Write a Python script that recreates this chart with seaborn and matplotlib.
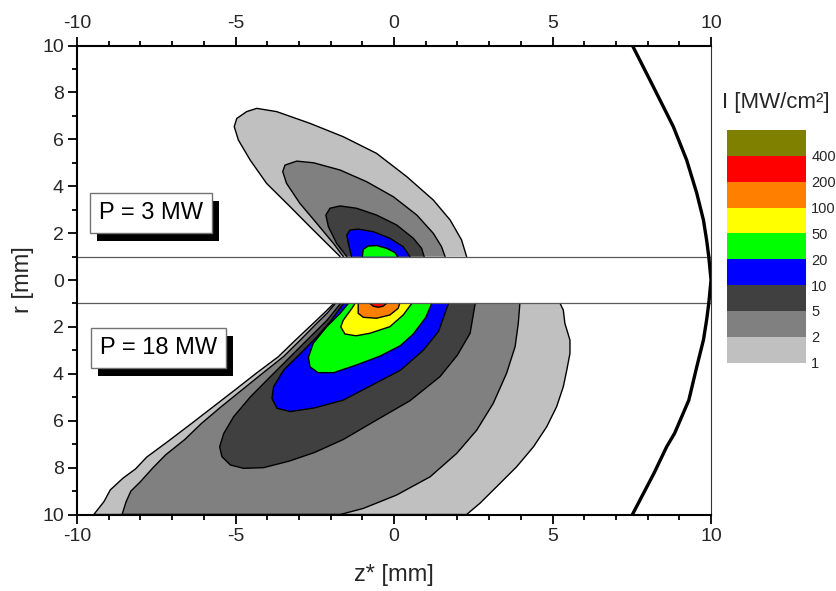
import matplotlib
matplotlib.use("Agg")
import matplotlib.pyplot as plt
import matplotlib.patheffects as pe
from matplotlib.colors import ListedColormap, BoundaryNorm
from matplotlib.cm import ScalarMappable
from matplotlib.ticker import MultipleLocator
import seaborn as sns

sns.set_theme(style="ticks")
plt.rcParams["font.family"] = ["Liberation Sans", "DejaVu Sans"]
plt.rcParams["axes.unicode_minus"] = False

# Intensity levels (MW/cm^2) and the colour of the band above each level
levels = [1, 2, 5, 10, 20, 50, 100, 200, 400]
level_cap = 800
band_colors = ["#c0c0c0", "#808080", "#404040", "#0000ff", "#00ff00",
               "#ffff00", "#ff8000", "#ff0000", "#808000"]

# Upper half: P = 3 MW, iso-intensity boundaries (z*, r) in mm
top_1_z = [-1.70, -2.12, -2.65, -3.28, -4.02, -4.54, -4.91, -5.04, -4.96, -4.65,
           -4.33, -3.70, -2.65, -1.60, -0.55, 0.40, 1.24, 1.77, 2.13, 2.29]
top_1_r = [1.0, 1.56, 2.27, 3.13, 4.12, 5.12, 5.97, 6.54, 6.89, 7.18,
           7.32, 7.18, 6.68, 6.11, 5.40, 4.41, 3.41, 2.56, 1.71, 1.0]
top_2_z = [-1.60, -1.91, -2.44, -2.97, -3.39, -3.51, -3.44, -3.07, -2.54, -1.70,
           -0.86, -0.02, 0.72, 1.24, 1.50, 1.61]
top_2_r = [1.0, 1.56, 2.42, 3.27, 4.12, 4.62, 4.90, 5.07, 5.00, 4.69,
           4.19, 3.55, 2.77, 1.99, 1.42, 1.0]
top_5_z = [-1.49, -1.81, -2.07, -2.15, -2.02, -1.70, -1.18, -0.55, 0.08, 0.61, 0.87, 0.95]
top_5_r = [1.0, 1.56, 2.27, 2.77, 3.06, 3.16, 3.06, 2.77, 2.35, 1.78, 1.35, 1.0]
top_10_z = [-1.34, -1.44, -1.49, -1.39, -1.13, -0.65, -0.13, 0.29, 0.50]
top_10_r = [1.0, 1.56, 1.92, 2.13, 2.17, 2.06, 1.78, 1.42, 1.0]
top_20_z = [-1.00, -0.97, -0.81, -0.55, -0.23, 0.03, 0.11]
top_20_r = [1.0, 1.31, 1.45, 1.47, 1.35, 1.17, 1.0]

# Lower half: P = 18 MW (r plotted downwards)
bot_1_z = [-1.90, -2.20, -2.55, -3.10, -3.65, -4.35, -5.02, -5.70, -6.38, -7.10,
           -7.80, -8.15, -8.55, -8.95, -9.15, -9.47, 2.29, 2.71, 3.24, 3.87,
           4.40, 4.82, 5.13, 5.34, 5.45, 5.55, 5.55, 5.39, 5.34, 5.24]
bot_1_r = [-1.0, -1.40, -1.85, -2.55, -3.27, -3.98, -4.69, -5.40, -6.11, -6.85,
           -7.55, -8.05, -8.45, -8.95, -9.45, -10.0, -10.0, -9.52, -8.81, -7.96,
           -7.11, -6.25, -5.40, -4.55, -3.84, -3.13, -2.56, -1.85, -1.28, -1.0]
bot_2_z = [-1.85, -2.10, -2.44, -2.95, -3.49, -4.15, -4.80, -5.45, -6.07, -6.60,
           -7.20, -7.60, -8.00, -8.30, -8.45, -8.58, -1.70, -0.97, 0.08, 1.14,
           1.98, 2.61, 3.13, 3.55, 3.82, 3.92, 3.97]
bot_2_r = [-1.0, -1.40, -1.85, -2.55, -3.27, -3.98, -4.69, -5.40, -6.11, -6.80,
           -7.45, -8.00, -8.60, -9.00, -9.45, -10.0, -10.0, -9.74, -9.17, -8.39,
           -7.39, -6.40, -5.26, -3.98, -2.84, -1.85, -1.0]
bot_5_z = [-1.69, -2.11, -2.64, -3.27, -3.90, -4.53, -5.06, -5.37, -5.50, -5.43,
           -5.16, -4.74, -4.11, -3.30, -2.50, -1.60, -0.55, 0.50, 1.45, 2.00, 2.40, 2.56]
bot_5_r = [-1.0, -1.71, -2.42, -3.27, -4.12, -4.98, -5.83, -6.54, -7.11, -7.53,
           -7.89, -8.03, -8.00, -7.72, -7.35, -6.80, -5.97, -5.15, -4.12, -3.20, -2.27, -1.0]
bot_10_z = [-1.59, -2.00, -2.43, -3.00, -3.48, -3.80, -3.85, -3.69, -3.27, -2.50,
            -1.60, -0.65, 0.20, 0.92, 1.40, 1.72]
bot_10_r = [-1.0, -1.75, -2.42, -3.20, -3.84, -4.55, -5.05, -5.47, -5.61, -5.45,
            -5.12, -4.45, -3.85, -3.00, -2.20, -1.0]
bot_20_z = [-1.44, -1.70, -2.12, -2.55, -2.70, -2.65, -2.40, -1.90, -1.18, -0.45,
            0.20, 0.61, 1.00, 1.19]
bot_20_r = [-1.0, -1.42, -1.99, -2.70, -3.30, -3.70, -3.95, -3.95, -3.62, -3.25,
            -2.80, -2.30, -1.60, -1.0]
bot_50_z = [-1.23, -1.33, -1.60, -1.68, -1.55, -1.20, -0.76, -0.13, 0.29, 0.56]
bot_50_r = [-1.0, -1.21, -1.71, -2.00, -2.30, -2.38, -2.27, -1.99, -1.49, -1.0]
bot_100_z = [-1.13, -1.13, -0.97, -0.55, -0.13, 0.13, 0.18]
bot_100_r = [-1.0, -1.42, -1.59, -1.63, -1.49, -1.21, -1.0]
bot_200_z = [-0.76, -0.65, -0.50, -0.35, -0.24]
bot_200_r = [-1.0, -1.12, -1.16, -1.12, -1.0]

# Window surface
mirror_z = [7.52, 8.18, 8.60, 8.81, 9.23, 9.55, 9.76, 9.86, 9.93, 10.0,
            9.93, 9.86, 9.76, 9.55, 9.30, 8.85, 8.60, 8.20, 7.52]
mirror_r = [10.0, 8.24, 7.11, 6.54, 5.12, 3.70, 2.56, 1.71, 0.98, 0.0,
            -0.98, -1.71, -2.56, -3.70, -5.12, -6.54, -7.11, -8.24, -10.0]

power_labels = ["P = 3 MW", "P = 18 MW"]
label_z = [-7.67, -7.44]
label_r = [2.87, -2.88]

x_ticks = [-10, -5, 0, 5, 10]
r_ticks = [-10, -8, -6, -4, -2, 0, 2, 4, 6, 8, 10]
r_tick_labels = ["10", "8", "6", "4", "2", "0", "2", "4", "6", "8", "10"]

halves = [
    [(1, top_1_z, top_1_r), (2, top_2_z, top_2_r), (5, top_5_z, top_5_r),
     (10, top_10_z, top_10_r), (20, top_20_z, top_20_r)],
    [(1, bot_1_z, bot_1_r), (2, bot_2_z, bot_2_r), (5, bot_5_z, bot_5_r),
     (10, bot_10_z, bot_10_r), (20, bot_20_z, bot_20_r), (50, bot_50_z, bot_50_r),
     (100, bot_100_z, bot_100_r), (200, bot_200_z, bot_200_r)],
]

fig = plt.figure(figsize=(8.37, 5.91), dpi=100)
ax = fig.add_axes([0.0920, 0.1294, 0.7575, 0.7936])
ax.set_xlim(-10, 10)
ax.set_ylim(-10, 10)

for half in halves:
    for lev, zs, rs in half:
        color = band_colors[levels.index(lev)]
        ax.fill(zs, rs, color=color, lw=0, zorder=1)
        sns.lineplot(x=zs, y=rs, sort=False, estimator=None, color="black",
                     linewidth=1.0, ax=ax, zorder=3)

# edges of the omitted axial strip
for y in (1, -1):
    ax.axhline(y, color="0.35", lw=0.9, zorder=4)

sns.lineplot(x=mirror_z, y=mirror_r, sort=False, estimator=None, color="black",
             linewidth=2.4, ax=ax, zorder=5)

# power labels in framed boxes with a solid drop shadow
box_fx = [pe.SimplePatchShadow(offset=(5, -5.8), shadow_rgbFace="black", alpha=1.0),
          pe.Normal()]
for txt, zx, ry in zip(power_labels, label_z, label_r):
    ax.text(zx, ry, txt, fontsize=17, color="black", ha="center", va="center",
            zorder=7,
            bbox=dict(boxstyle="square,pad=0.38", fc="white", ec="0.45", lw=1,
                      path_effects=box_fx))

ax.set_xticks(x_ticks)
ax.set_yticks(r_ticks)
ax.set_yticklabels(r_tick_labels)
ax.xaxis.set_minor_locator(MultipleLocator(1))
ax.yaxis.set_minor_locator(MultipleLocator(1))
ax.tick_params(which="both", direction="out", top=True, labeltop=True,
               right=False, labelright=False, width=1.3, color="black",
               labelsize=14, pad=3)
ax.tick_params(which="major", length=6.5)
ax.tick_params(which="minor", length=3.5)

for side in ("left", "bottom", "top"):
    ax.spines[side].set_linewidth(1.5)
    ax.spines[side].set_color("black")
ax.spines["right"].set_linewidth(0.8)
ax.spines["right"].set_color("0.2")
for s in ax.spines.values():
    s.set_zorder(8)

ax.set_xlabel("z* [mm]", fontsize=17, labelpad=14)
ax.set_ylabel("r [mm]", fontsize=17, labelpad=6)

# colour key
cax = fig.add_axes([0.8682, 0.3863, 0.0944, 0.3937])
cmap = ListedColormap(band_colors)
bounds = levels + [level_cap]
norm = BoundaryNorm(bounds, cmap.N)
cb = fig.colorbar(ScalarMappable(norm=norm, cmap=cmap), cax=cax,
                  boundaries=bounds, spacing="uniform", ticks=levels)
cb.outline.set_visible(False)
cax.minorticks_off()
cax.tick_params(which="both", length=0, labelsize=10.5, pad=4)
cax.set_yticklabels([str(v) for v in levels])
fig.text(721.7 / 837, 1 - 102.5 / 591, "I [MW/cm²]", fontsize=16,
         ha="left", va="center")

fig.savefig("out.png", dpi=100)
